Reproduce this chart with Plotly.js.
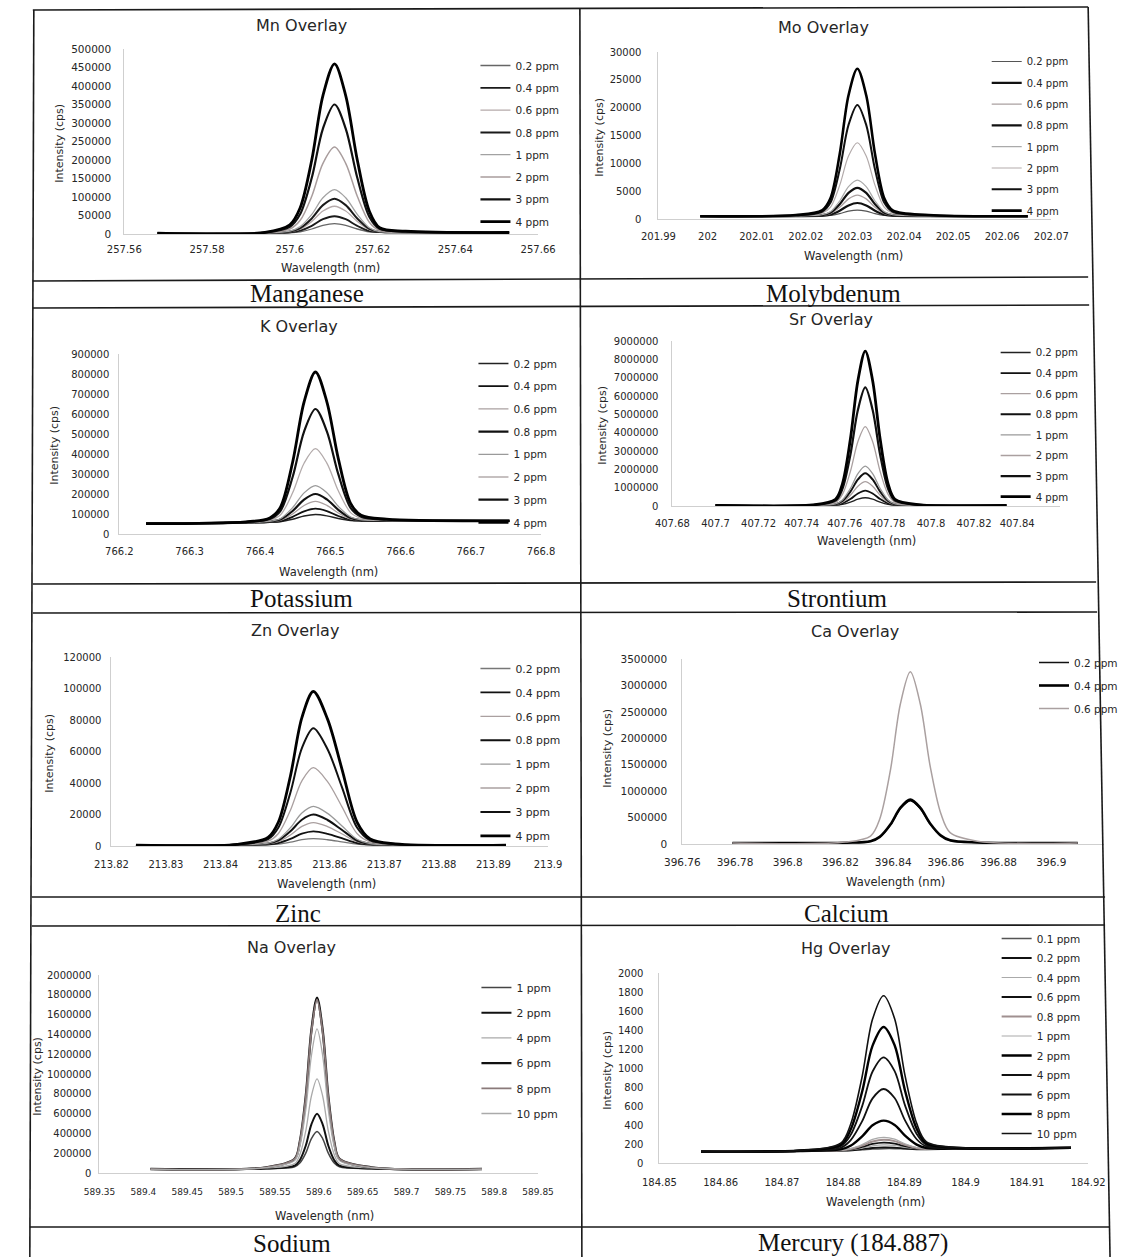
<!DOCTYPE html>
<html><head><meta charset="utf-8">
<script src="https://cdn.plot.ly/plotly-3.0.1.min.js"></script>
<style>html,body{margin:0;padding:0;background:#fff}#chart{width:1123px;height:1257px}</style>
</head><body><div id="chart"></div>
<script>
// ================= DATA =================
// ---- Mn ----
const mnWavelength = [257.568, 257.594, 257.600, 257.6025, 257.6053, 257.608, 257.6108, 257.6135, 257.6163, 257.6192, 257.6217, 257.628, 257.653];
const mnLabels = ['0.2 ppm','0.4 ppm','0.6 ppm','0.8 ppm','1 ppm','2 ppm','3 ppm','4 ppm'];
const mnIntensity = [
  [2000, 2100, 3400, 6000, 13500, 23500, 28000, 23500, 13500, 6000, 4600, 4100, 4000],
  [2000, 2200, 4400, 9000, 22000, 40000, 48000, 40000, 22000, 8000, 5000, 4200, 4000],
  [2000, 2400, 5700, 13000, 34000, 62000, 75000, 62000, 34000, 11500, 5500, 4300, 4000],
  [2000, 2500, 6700, 16000, 42000, 78000, 95000, 78000, 42000, 14000, 6000, 4500, 4000],
  [2000, 2600, 8000, 20000, 53000, 98000, 120000, 98000, 53000, 17000, 6500, 4500, 4000],
  [2000, 3200, 13500, 37000, 102000, 191000, 235000, 191000, 102000, 32000, 10000, 5500, 4000],
  [2000, 3700, 19500, 54000, 152000, 285000, 350000, 285000, 152000, 47000, 14000, 6500, 4000],
  [2000, 4300, 25000, 71000, 200000, 374000, 460000, 374000, 200000, 62000, 17000, 7500, 4000]
];
const mnXTickText = ['257.56','257.58','257.6','257.62','257.64','257.66'];
const mnYTickText = ['0','50000','100000','150000','200000','250000','300000','350000','400000','450000','500000'];

// ---- Mo ----
const moWavelength = [201.9985, 202.018, 202.0233, 202.025, 202.0269, 202.0287, 202.0305, 202.0323, 202.0341, 202.036, 202.0377, 202.045, 202.0652];
const moLabels = ['0.2 ppm','0.4 ppm','0.6 ppm','0.8 ppm','1 ppm','2 ppm','3 ppm','4 ppm'];
const moIntensity = [
  [500, 509, 544, 632, 962, 1402, 1600, 1402, 962, 632, 544, 509, 500],
  [500, 519, 595, 784, 1495, 2443, 2870, 2443, 1495, 784, 595, 519, 500],
  [500, 530, 652, 956, 2096, 3616, 4300, 3616, 2096, 956, 652, 530, 500],
  [500, 541, 704, 1112, 2642, 4682, 5600, 4682, 2642, 1112, 704, 541, 500],
  [500, 552, 760, 1280, 3230, 5830, 7000, 5830, 3230, 1280, 760, 552, 500],
  [500, 606, 1028, 2084, 6044, 11324, 13700, 11324, 6044, 2084, 1028, 606, 500],
  [500, 660, 1300, 2900, 8900, 16900, 20500, 16900, 8900, 2900, 1300, 660, 500],
  [500, 712, 1560, 3680, 11630, 22230, 27000, 22230, 11630, 3680, 1560, 712, 500]
];
const moXTickText = ['201.99','202','202.01','202.02','202.03','202.04','202.05','202.06','202.07'];
const moYTickText = ['0','5000','10000','15000','20000','25000','30000'];

// ---- K ----
const kWavelength = [766.238, 766.38, 766.414, 766.429, 766.4465, 766.4628, 766.479, 766.4952, 766.5115, 766.529, 766.544, 766.58, 766.755];
const kLabels = ['0.2 ppm','0.4 ppm','0.6 ppm','0.8 ppm','1 ppm','2 ppm','3 ppm','4 ppm'];
const kIntensity = [
  [52000, 57200, 59100, 61700, 73800, 89600, 97000, 90600, 77500, 67400, 65500, 65400, 66000],
  [52000, 57300, 60000, 64700, 85800, 113600, 127000, 114600, 90100, 71000, 66700, 65800, 66000],
  [52000, 57500, 61100, 68300, 100200, 142400, 163000, 143400, 105300, 75400, 68100, 66200, 66000],
  [52000, 57700, 62200, 72000, 115000, 172000, 200000, 173000, 120800, 79800, 69600, 66700, 66000],
  [52000, 57900, 63500, 76200, 131800, 205600, 242000, 206600, 138400, 84800, 71300, 67200, 66000],
  [52000, 58800, 69000, 94700, 205800, 353600, 427000, 354600, 216000, 107000, 78700, 69400, 66000],
  [52000, 59800, 75000, 114500, 285000, 512000, 625000, 513000, 299000, 130800, 86600, 71800, 66000],
  [52000, 60750, 80500, 133000, 359000, 660000, 810000, 661000, 377000, 153000, 94000, 74000, 66000]
];
const kXTickText = ['766.2','766.3','766.4','766.5','766.6','766.7','766.8'];
const kYTickText = ['0','100000','200000','300000','400000','500000','600000','700000','800000','900000'];

// ---- Sr ----
const srWavelength = [407.700, 407.745, 407.7557, 407.7589, 407.7626, 407.7661, 407.7695, 407.7729, 407.7764, 407.7801, 407.7833, 407.795, 407.835];
const srLabels = ['0.2 ppm','0.4 ppm','0.6 ppm','0.8 ppm','1 ppm','2 ppm','3 ppm','4 ppm'];
const srIntensity = [
  [30000, 31000, 47000, 89000, 211000, 370000, 450000, 370000, 211000, 89000, 47000, 32000, 30000],
  [30000, 32000, 62000, 143000, 378000, 686000, 840000, 686000, 378000, 143000, 62000, 33000, 30000],
  [30000, 34000, 82000, 212000, 589000, 1083000, 1330000, 1083000, 589000, 212000, 82000, 35000, 30000],
  [30000, 35000, 100000, 275000, 783000, 1448000, 1780000, 1448000, 783000, 275000, 100000, 37000, 30000],
  [30000, 36000, 116000, 331000, 955000, 1772000, 2180000, 1772000, 955000, 331000, 116000, 39000, 30000],
  [30000, 43000, 202000, 632000, 1880000, 3517000, 4330000, 3517000, 1880000, 632000, 202000, 47000, 30000],
  [30000, 49000, 288000, 932000, 2800000, 5247000, 6470000, 5247000, 2800000, 932000, 288000, 56000, 30000],
  [30000, 55000, 367000, 1208000, 3650000, 6850000, 8450000, 6850000, 3650000, 1208000, 367000, 64000, 30000]
];
const srXTickText = ['407.68','407.7','407.72','407.74','407.76','407.78','407.8','407.82','407.84'];
const srYTickText = ['0','1000000','2000000','3000000','4000000','5000000','6000000','7000000','8000000','9000000'];

// ---- Zn ----
const znWavelength = [213.8245, 213.843, 213.8487, 213.8506, 213.8528, 213.8549, 213.857, 213.8596, 213.8622, 213.865, 213.8674, 213.872, 213.8923];
const znLabels = ['0.2 ppm','0.4 ppm','0.6 ppm','0.8 ppm','1 ppm','2 ppm','3 ppm','4 ppm'];
const znIntensity = [
  [600, 620, 805, 1215, 2445, 4000, 4700, 3960, 2650, 1215, 765, 635, 600],
  [600, 645, 1035, 1905, 4515, 7820, 9300, 7730, 4950, 1905, 950, 670, 600],
  [600, 670, 1315, 2745, 7035, 12470, 14900, 12330, 7750, 2745, 1170, 715, 600],
  [600, 700, 1570, 3510, 9330, 16700, 20000, 16510, 10300, 3510, 1380, 755, 600],
  [600, 720, 1825, 4275, 11625, 20935, 25100, 20690, 12850, 4275, 1580, 800, 600],
  [600, 850, 3055, 7965, 22695, 41350, 49700, 40860, 25150, 7965, 2565, 990, 600],
  [600, 970, 4310, 11730, 33990, 62190, 74800, 61440, 37700, 11730, 3570, 1190, 600],
  [600, 1090, 5475, 15225, 44475, 81525, 98100, 80550, 49350, 15225, 4500, 1380, 600]
];
const znXTickText = ['213.82','213.83','213.84','213.85','213.86','213.87','213.88','213.89','213.9'];
const znYTickText = ['0','20000','40000','60000','80000','100000','120000'];

// ---- Ca ----
const caWavelength = [396.779, 396.822, 396.8314, 396.8349, 396.839, 396.8427, 396.8465, 396.8503, 396.854, 396.8581, 396.8616, 396.872, 396.910];
const caLabels = ['0.2 ppm','0.4 ppm','0.6 ppm'];
const caIntensity = [
  [20000, 24000, 52000, 132000, 364000, 668000, 820000, 668000, 380000, 156000, 68000, 28000, 20000],
  [20000, 24000, 53000, 135000, 373000, 684000, 840000, 684000, 389000, 159000, 69000, 28000, 20000],
  [20000, 36000, 150000, 474000, 1413000, 2644000, 3260000, 2644000, 1478000, 571000, 214000, 52000, 20000]
];
const caXTickText = ['396.76','396.78','396.8','396.82','396.84','396.86','396.88','396.9'];
const caYTickText = ['0','500000','1000000','1500000','2000000','2500000','3000000','3500000'];

// ---- Na ----
const naWavelength = [589.408, 589.54, 589.5725, 589.5784, 589.5853, 589.5916, 589.598, 589.6044, 589.6107, 589.6176, 589.6235, 589.66, 589.786];
const naLabels = ['1 ppm','2 ppm','4 ppm','6 ppm','8 ppm','10 ppm'];
const naIntensity = [
  [40000, 43800, 62800, 100800, 203400, 347800, 420000, 347800, 203400, 100800, 62800, 43800, 40000],
  [40000, 45600, 73500, 129300, 279900, 492000, 598000, 492000, 279900, 129300, 73500, 45600, 40000],
  [40000, 49100, 94700, 185800, 431700, 777900, 951000, 777900, 431700, 185800, 94700, 49100, 40000],
  [40000, 57300, 143800, 316800, 783900, 1441300, 1770000, 1441300, 783900, 316800, 143800, 57300, 40000],
  [40000, 57100, 142600, 313600, 775300, 1425100, 1750000, 1425100, 775300, 313600, 142600, 57100, 40000],
  [40000, 54200, 124900, 266400, 648500, 1186200, 1455000, 1186200, 648500, 266400, 124900, 54200, 40000]
];
const naXTickText = ['589.35','589.4','589.45','589.5','589.55','589.6','589.65','589.7','589.75','589.8','589.85'];
const naYTickText = ['0','200000','400000','600000','800000','1000000','1200000','1400000','1600000','1800000','2000000'];

// ---- Hg ----
const hgWavelength = [184.8568, 184.873, 184.8796, 184.8812, 184.8831, 184.8848, 184.8866, 184.8884, 184.8901, 184.892, 184.8936, 184.90, 184.9172];
const hgLabels = ['0.1 ppm','0.2 ppm','0.4 ppm','0.6 ppm','0.8 ppm','1 ppm','2 ppm','4 ppm','6 ppm','8 ppm','10 ppm'];
const hgIntensity = [
  [120, 125, 129, 131, 138, 146, 150, 150, 146, 143, 143, 150, 160],
  [120, 125, 130, 133, 145, 158, 165, 162, 153, 145, 144, 150, 160],
  [120, 125, 131, 138, 157, 180, 190, 184, 165, 150, 145, 150, 160],
  [120, 125, 132, 142, 169, 201, 215, 205, 177, 154, 146, 150, 160],
  [120, 126, 134, 147, 183, 226, 245, 230, 191, 159, 148, 151, 160],
  [120, 126, 135, 151, 195, 248, 270, 252, 203, 163, 149, 151, 160],
  [120, 127, 144, 181, 280, 397, 446, 401, 288, 193, 158, 152, 160],
  [120, 128, 160, 238, 440, 680, 779, 684, 448, 250, 174, 153, 160],
  [120, 130, 177, 294, 599, 963, 1112, 967, 607, 306, 191, 155, 160],
  [120, 131, 193, 349, 753, 1235, 1432, 1239, 761, 361, 207, 156, 160],
  [120, 133, 209, 405, 911, 1515, 1761, 1519, 919, 417, 223, 158, 160]
];
const hgXTickText = ['184.85','184.86','184.87','184.88','184.89','184.9','184.91','184.92'];
const hgYTickText = ['0','200','400','600','800','1000','1200','1400','1600','1800','2000'];

const panelTitles = ['Mn Overlay','Mo Overlay','K Overlay','Sr Overlay','Zn Overlay','Ca Overlay','Na Overlay','Hg Overlay'];
const captions = ['Manganese','Molybdenum','Potassium','Strontium','Zinc','Calcium','Sodium','Mercury (184.887)'];
const xAxisTitle = 'Wavelength (nm)';
const yAxisTitle = 'Intensity (cps)';

// ================= LAYOUT / STYLE =================
const W = 1123, H = 1257;
const FONT = 'DejaVu Sans, Verdana, sans-serif';
const SERIF = 'Liberation Serif, Times New Roman, serif';
const TXT = '#262626';

const panels = [
  {wl:mnWavelength, labels:mnLabels, ys:mnIntensity, xtt:mnXTickText, ytt:mnYTickText, xr:[257.56,257.66], yr:[0,500000],
   box:[125,541,234,49], ytl:10, xtl:6, tf:10.5, xtf:10,
   colors:['#666','#1a1a1a','#b5aaaa','#1a1a1a','#a2a2a2','#a99d9d','#111','#000'], widths:[1.3,1.8,1.3,2,1.3,1.5,2.2,2.8],
   title:[303,26], xt:[332,268], yt:[59,143], cap:[309,293], leg:[483,66,22.3], lf:10.5},
  {wl:moWavelength, labels:moLabels, ys:moIntensity, xtt:moXTickText, ytt:moYTickText, xr:[201.99,202.07], yr:[0,30000],
   box:[662,1057,219,52], ytl:14, xtl:8, tf:10, xtf:10,
   colors:['#555','#111','#aaa0a0','#111','#aaa','#b3abab','#111','#000'], widths:[1.2,2.2,1.3,2.2,1.2,1.2,2,2.6],
   title:[828,27], xt:[858,256], yt:[602,137], cap:[838,293], leg:[997,62,21.3], lf:10},
  {wl:kWavelength, labels:kLabels, ys:kIntensity, xtt:kXTickText, ytt:kYTickText, xr:[766.2,766.8], yr:[0,900000],
   box:[120,544,534,354], ytl:7, xtl:8, tf:10, xtf:10,
   colors:['#222','#111','#aaa0a0','#111','#9a9a9a','#b3abab','#111','#000'], widths:[1.5,1.8,1.3,2.2,1.3,1.3,2.2,2.8],
   title:[301,327], xt:[330,572], yt:[54,445], cap:[303,598], leg:[481,364,22.7], lf:10.5},
  {wl:srWavelength, labels:srLabels, ys:srIntensity, xtt:srXTickText, ytt:srYTickText, xr:[407.68,407.86], yr:[0,9000000],
   box:[676,1066,506,341], ytl:11, xtl:8, tf:10, xtf:10,
   colors:['#222','#111','#aaa0a0','#111','#9a9a9a','#aaa0a0','#111','#000'], widths:[1.3,1.8,1.3,2,1.3,1.3,2.2,2.8],
   title:[835,319], xt:[871,541], yt:[605,425], cap:[842,598], leg:[1006,353,20.6], lf:10.2},
  {wl:znWavelength, labels:znLabels, ys:znIntensity, xtt:znXTickText, ytt:znYTickText, xr:[213.82,213.9], yr:[0,120000],
   box:[112,551,846,657], ytl:7, xtl:9, tf:10, xtf:10,
   colors:['#777','#111','#aaa0a0','#111','#9a9a9a','#aaa0a0','#111','#000'], widths:[1.3,1.8,1.3,2,1.3,1.3,2,2.8],
   title:[297,630], xt:[328,884], yt:[49,753], cap:[300,913], leg:[483,669,23.9], lf:10.8},
  {wl:caWavelength, labels:caLabels, ys:caIntensity, xtt:caXTickText, ytt:caYTickText, xr:[396.76,396.92], yr:[0,3500000],
   box:[686,1110,844,659], ytl:12, xtl:8, tf:10.5, xtf:10.5,
   colors:['#111','#000','#aaa0a0'], widths:[1.5,2.6,1.5],
   title:[860,631], xt:[900,882], yt:[610,748], cap:[851,913], leg:[1045,663,23], lf:10.5},
  {wl:naWavelength, labels:naLabels, ys:naIntensity, xtt:naXTickText, ytt:naYTickText, xr:[589.35,589.85], yr:[0,2000000],
   box:[100,541,1173,975], ytl:5, xtl:10, tf:10, xtf:9,
   colors:['#444','#111','#aaa','#111','#8a7a7a','#aaa'], widths:[1.5,2,1.3,2.4,1.8,1.3],
   title:[293,947], xt:[326,1216], yt:[37,1076], cap:[294,1243], leg:[484,988,25.2], lf:10.8},
  {wl:hgWavelength, labels:hgLabels, ys:hgIntensity, xtt:hgXTickText, ytt:hgYTickText, xr:[184.85,184.92], yr:[0,2000],
   box:[663,1094,1163,973], ytl:13, xtl:10, tf:10, xtf:10,
   colors:['#555','#111','#aaa','#111','#a09090','#aaa','#000','#111','#111','#000','#111'], widths:[1.3,1.8,1.2,1.8,2,1.2,2.4,1.8,1.8,2.4,1.6],
   title:[850,948], xt:[880,1202], yt:[610,1070], cap:[858,1243], leg:[1007,939,19.5], lf:10.5}
];

const traces = [];
const layout = {
  width: W, height: H, margin:{l:0,r:0,t:0,b:0}, paper_bgcolor:'#fff', plot_bgcolor:'rgba(0,0,0,0)',
  showlegend: true, annotations: [], shapes: [], font:{family:FONT, color:TXT}
};

panels.forEach((p, i) => {
  const n = i + 1, sfx = n === 1 ? '' : String(n);
  const legName = 'legend' + sfx;
  p.labels.forEach((lab, j) => {
    traces.push({
      type:'scatter', mode:'lines', x:p.wl, y:p.ys[j], name:lab,
      xaxis:'x'+sfx, yaxis:'y'+sfx, legend:legName, legendgroup:'g'+n+'_'+j,
      line:{color:p.colors[j], width:p.widths[j], shape:'spline', smoothing:0.9},
      hoverinfo:'skip'
    });
  });
  layout['xaxis'+sfx] = {
    domain:[p.box[0]/W, p.box[1]/W], range:p.xr, anchor:'y'+sfx,
    showgrid:false, zeroline:false, showline:true, linecolor:'#cfcfcf', linewidth:1,
    ticks:'outside', ticklen:p.xtl, tickcolor:'rgba(0,0,0,0)',
    tickvals:p.xtt.map(Number), ticktext:p.xtt, tickfont:{family:FONT, size:p.xtf, color:TXT}, fixedrange:true
  };
  layout['yaxis'+sfx] = {
    domain:[1-p.box[2]/H, 1-p.box[3]/H], range:p.yr, anchor:'x'+sfx,
    showgrid:false, zeroline:false, showline:true, linecolor:'#cfcfcf', linewidth:1,
    ticks:'outside', ticklen:p.ytl, tickcolor:'rgba(0,0,0,0)',
    tickvals:p.ytt.map(Number), ticktext:p.ytt, tickfont:{family:FONT, size:p.tf, color:TXT}, fixedrange:true
  };
  layout[legName] = {
    x:(p.leg[0]-5)/W, y:1-(p.leg[1]-15)/H, xanchor:'left', yanchor:'top',
    bgcolor:'rgba(0,0,0,0)', borderwidth:0, font:{family:FONT, size:p.lf, color:TXT},
    traceorder:'grouped', tracegroupgap:Math.max(0, p.leg[2]-19)
  };
  const ann = (x, y, text, size, fam, extra) => layout.annotations.push(Object.assign({
    xref:'paper', yref:'paper', x:x/W, y:1-y/H, text:text, showarrow:false,
    xanchor:'center', yanchor:'middle', font:{family:fam, size:size, color:TXT}
  }, extra || {}));
  ann(p.title[0], p.title[1], panelTitles[i], 16, FONT);
  ann(p.xt[0], p.xt[1], xAxisTitle, 11.5, FONT);
  ann(p.yt[0], p.yt[1], yAxisTitle, 11, FONT, {textangle:-90});
  ann(p.cap[0], p.cap[1], captions[i], 25, SERIF, {font:{family:SERIF, size:25, color:'#111'}});
});

// table rules (scan of a bordered table)
const rules = [
  [33,10,1094,7],[34,10,30,1257],[583,8,585,1257],[1094,7,1116,1257],
  [33,281,1094,277],[33,308,1095,305],[33,584,1102,582],[33,613,1103,612],
  [32,897,1111,897],[32,926,1111,925],[30,1227,1116,1227]
];
rules.forEach(r => layout.shapes.push({type:'line', xref:'paper', yref:'paper',
  x0:r[0]/W, y0:1-r[1]/H, x1:r[2]/W, y1:1-r[3]/H, line:{color:'#1a1a1a', width:1.6}, layer:'above'}));

Plotly.newPlot('chart', traces, layout, {staticPlot:true, displayModeBar:false});
</script>
</body></html>
